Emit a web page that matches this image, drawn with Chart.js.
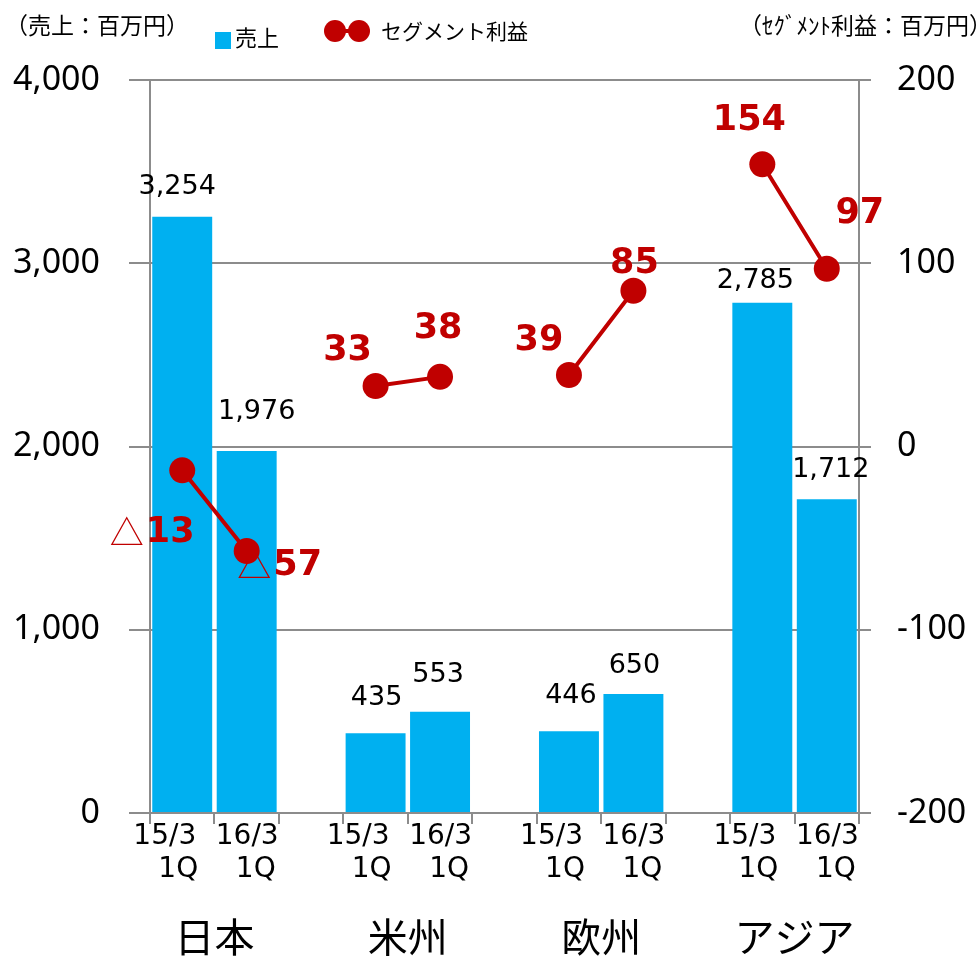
<!DOCTYPE html>
<html><head><meta charset="utf-8">
<script src="https://cdn.jsdelivr.net/npm/chart.js@4.4.1/dist/chart.umd.min.js"></script>
<style>html,body{margin:0;padding:0;background:#fff;}#wrap{width:979px;height:957px;}</style>
</head><body><div id="wrap"><canvas id="c" width="979" height="957"></canvas></div>
<script>
// ---- data ----
const regions = ['日本', '米州', '欧州', 'アジア'];
const periods = [['15/3', '1Q'], ['16/3', '1Q']];
const sales = [3254, 1976, 435, 553, 446, 650, 2785, 1712];      // 売上（百万円）
const profit = [-13, -57, 33, 38, 39, 85, 154, 97];               // セグメント利益（百万円）
const salesTicks = [0, 1000, 2000, 3000, 4000];
const profitTicks = [-200, -100, 0, 100, 200];
const salesTitle = '（売上：百万円）';
const profitTitle = '（ｾｸﾞﾒﾝﾄ利益：百万円）';
const legendSales = '売上';
const legendProfit = 'セグメント利益';

// ---- build category slots (gap slot between regions) ----
const slotLabels = [], slotSales = [], slotProfit = [], slotInfo = [];
let k = 0;
regions.forEach((r, ri) => {
  periods.forEach((p, pi) => {
    slotLabels.push(r + ' ' + p.join(' '));
    slotSales.push(sales[k]);
    slotProfit.push(profit[k]);
    slotInfo.push({ region: ri, period: pi, idx: k });
    k++;
  });
  if (ri < regions.length - 1) {
    slotLabels.push('');
    slotSales.push(null);
    slotProfit.push(null);
    slotInfo.push(null);
  }
});

const GRID = '#8c8c8c';
const RED = '#C00000';
const BLUE = '#00B0F0';

// label placement (style only)
const barLabelOffsets = [[-5, -30], [10, -39], [1, -35], [-2, -37], [2, -35], [1, -28], [-7, -22], [4, -29]];
const profitLabelOffsets = [[-30, 62], [33, 14], [-28, -36], [-2, -49], [-30, -35], [1, -28], [-13, -44], [33, -56]];
const periodRightOffsets = [14, 32];

const fmt = v => v.toLocaleString('en-US');

const labelPlugin = {
  id: 'labels',
  afterDraw(chart) {
    const ctx = chart.ctx;
    const xs = chart.scales.x;
    const area = chart.chartArea;
    const barMeta = chart.getDatasetMeta(0);
    const lineMeta = chart.getDatasetMeta(1);
    ctx.save();
    ctx.textBaseline = 'middle';
    // bar labels
    slotInfo.forEach((info, i) => {
      if (!info) return;
      const el = barMeta.data[i];
      const o = barLabelOffsets[info.idx];
      ctx.font = '27px "DejaVu Sans"';
      ctx.fillStyle = '#000';
      ctx.textAlign = 'center';
      ctx.fillText(fmt(sales[info.idx]), el.x + o[0], el.y + o[1]);
    });
    // profit labels
    slotInfo.forEach((info, i) => {
      if (!info) return;
      const el = lineMeta.data[i];
      const o = profitLabelOffsets[info.idx];
      const v = profit[info.idx];
      const num = String(Math.abs(v));
      const numFont = 'bold 35px "DejaVu Sans"';
      const triFont = '34px "Noto Sans CJK JP"';
      ctx.fillStyle = RED;
      ctx.textAlign = 'left';
      ctx.font = numFont;
      const wNum = ctx.measureText(num).width;
      let wTri = 0, gap = 0;
      if (v < 0) { ctx.font = triFont; wTri = ctx.measureText('△').width; gap = 2; }
      const total = wTri + gap + wNum;
      let x = el.x + o[0] - total / 2;
      const y = el.y + o[1];
      if (v < 0) { ctx.font = triFont; ctx.fillText('△', x, y); x += wTri + gap; }
      ctx.font = numFont;
      ctx.fillText(num, x, y + 1);
    });
    // period labels (two lines, right aligned)
    ctx.font = '28px "DejaVu Sans"';
    ctx.fillStyle = '#000';
    ctx.textAlign = 'right';
    slotInfo.forEach((info, i) => {
      if (!info) return;
      const px = xs.getPixelForValue(i) + periodRightOffsets[info.period];
      const lines = periods[info.period];
      ctx.fillText(lines[0], px, area.bottom + 24);
      ctx.fillText(lines[1], px + (info.period === 0 ? 2 : -3), area.bottom + 57);
    });
    // region labels
    ctx.font = '40px "Noto Sans CJK JP"';
    ctx.textAlign = 'center';
    regions.forEach((r, ri) => {
      const a = slotInfo.findIndex(s => s && s.region === ri && s.period === 0);
      const b = slotInfo.findIndex(s => s && s.region === ri && s.period === 1);
      const cx = (xs.getPixelForValue(a) + xs.getPixelForValue(b)) / 2;
      ctx.fillText(r, cx, area.bottom + 124);
    });
    // axis titles
    ctx.font = '23px "Noto Sans CJK JP"';
    ctx.textAlign = 'left';
    ctx.fillText(salesTitle, 5, 25);
    ctx.font = '23px "Noto Sans CJK JP"';
    ctx.textAlign = 'right';
    ctx.fillText(profitTitle, 992, 25);
    // legend
    ctx.fillStyle = BLUE;
    ctx.fillRect(215, 32, 16, 17);
    ctx.fillStyle = '#000';
    ctx.textAlign = 'left';
    ctx.font = '22px "Noto Sans CJK JP"';
    ctx.fillText(legendSales, 235, 38);
    ctx.strokeStyle = RED;
    ctx.lineWidth = 4;
    ctx.beginPath(); ctx.moveTo(335, 31); ctx.lineTo(359, 31); ctx.stroke();
    ctx.fillStyle = RED;
    ctx.beginPath(); ctx.arc(335, 31, 11, 0, Math.PI * 2); ctx.fill();
    ctx.beginPath(); ctx.arc(359, 31, 11, 0, Math.PI * 2); ctx.fill();
    ctx.fillStyle = '#000';
    ctx.font = '21px "Noto Sans CJK JP"';
    ctx.fillText(legendProfit, 381, 31);
    ctx.restore();
  }
};

new Chart(document.getElementById('c'), {
  data: {
    labels: slotLabels,
    datasets: [
      {
        type: 'bar', label: legendSales, data: slotSales, yAxisID: 'y',
        backgroundColor: BLUE, barPercentage: 0.93, categoryPercentage: 1.0, order: 2
      },
      {
        type: 'line', label: legendProfit, data: slotProfit, yAxisID: 'y1',
        borderColor: RED, borderWidth: 4, pointRadius: 13, pointHoverRadius: 13,
        pointBackgroundColor: RED, pointBorderWidth: 0, spanGaps: false, tension: 0, order: 1
      }
    ]
  },
  options: {
    responsive: false, animation: false, devicePixelRatio: 1,
    layout: { padding: { top: 80, left: 0, right: 0, bottom: 0 } },
    plugins: { legend: { display: false }, tooltip: { enabled: false } },
    scales: {
      x: {
        type: 'category', offset: true,
        grid: { display: true, drawOnChartArea: false, drawTicks: true, tickLength: 11, color: GRID, lineWidth: 2, offset: true },
        border: { display: true, color: GRID, width: 2 },
        ticks: { display: false, autoSkip: false },
        afterFit(s) { s.height = 144; s.paddingLeft = 0; s.paddingRight = 0; }
      },
      y: {
        position: 'left', min: 0, max: 4000,
        afterBuildTicks(s) { s.ticks = salesTicks.map(v => ({ value: v })); },
        ticks: { font: { family: 'Noto Sans', size: 34 }, color: '#000', padding: 29, callback: v => fmt(v) },
        grid: { color: GRID, lineWidth: 2, tickLength: 21 },
        border: { display: true, color: GRID, width: 2 },
        afterFit(s) { s.width = 150; s.paddingTop = 0; s.paddingBottom = 0; }
      },
      y1: {
        position: 'right', min: -200, max: 200,
        afterBuildTicks(s) { s.ticks = profitTicks.map(v => ({ value: v })); },
        ticks: { font: { family: 'Noto Sans', size: 34 }, color: '#000', padding: 26, callback: v => String(v) },
        grid: { drawOnChartArea: false, color: GRID, lineWidth: 2, tickLength: 12 },
        border: { display: true, color: GRID, width: 2 },
        afterFit(s) { s.width = 120; s.paddingTop = 0; s.paddingBottom = 0; }
      }
    }
  },
  plugins: [labelPlugin]
});
</script>
</body></html>
